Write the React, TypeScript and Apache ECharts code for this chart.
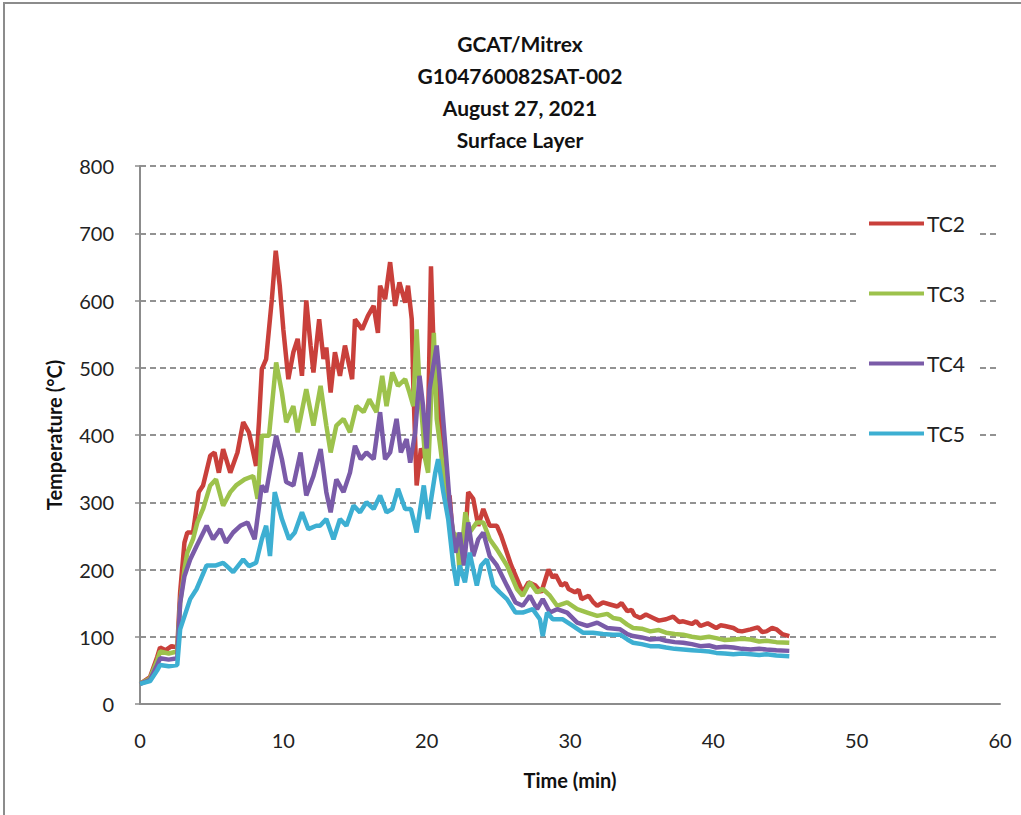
import React, { useEffect, useRef } from "react";
import * as echarts from "echarts";

const titleLines = ["GCAT/Mitrex", "G104760082SAT-002", "August 27, 2021", "Surface Layer"];
const seriesNames = ["TC2", "TC3", "TC4", "TC5"];
const seriesColors = ["#C9403B", "#9DC24C", "#7A5BA8", "#3DAFD2"];
const xTicks = [0, 10, 20, 30, 40, 50, 60];
const yTicks = [0, 100, 200, 300, 400, 500, 600, 700, 800];

const tc2: number[][] = [
  [0, 30], [0.7, 40], [1.2, 70], [1.4, 84], [1.8, 80], [2.2, 86], [2.6, 84], [2.8, 166], [3.1, 240], [3.3, 255],
  [3.7, 255], [4.1, 315], [4.4, 325], [4.9, 369], [5.2, 374], [5.5, 344], [5.8, 379], [6.3, 344], [6.8, 374],
  [7.2, 419], [7.6, 404], [8.1, 354], [8.3, 420], [8.5, 498], [8.8, 513], [9.2, 602], [9.47, 674], [9.75, 622],
  [10.0, 557], [10.35, 483], [10.7, 523], [11.0, 543], [11.3, 488], [11.6, 600], [11.9, 533], [12.1, 493],
  [12.5, 572], [12.8, 513], [13.0, 530], [13.3, 463], [13.6, 523], [13.95, 488], [14.3, 533], [14.8, 483],
  [15.0, 572], [15.5, 557], [15.9, 577], [16.3, 592], [16.6, 552], [16.75, 622], [17.1, 602], [17.45, 657],
  [17.8, 592], [18.1, 627], [18.5, 597], [18.7, 622], [18.96, 572], [19.07, 473], [19.3, 325], [19.6, 380],
  [19.9, 364], [20.1, 420], [20.3, 651], [20.5, 520], [20.8, 450], [21.16, 384], [21.4, 300], [21.6, 310],
  [21.86, 240], [22.2, 235], [22.6, 220], [22.9, 315], [23.25, 305], [23.6, 265], [23.95, 290], [24.4, 265],
  [24.9, 265], [25.2, 250], [25.6, 225], [25.9, 206], [26.3, 186], [26.7, 166], [27.1, 181], [27.6, 176],
  [28.0, 166], [28.5, 200], [28.8, 188], [29.0, 192], [29.4, 176], [29.7, 180], [29.9, 171], [30.35, 166],
  [30.6, 170], [30.8, 156], [31.3, 161], [31.6, 152], [31.9, 146], [32.3, 151], [32.8, 148], [33.3, 145],
  [33.6, 150], [34.0, 138], [34.3, 140], [34.5, 132], [34.9, 128], [35.3, 133], [35.8, 128], [36.2, 124],
  [36.7, 126], [37.2, 130], [37.6, 122], [37.9, 123], [38.5, 119], [38.8, 123], [39.1, 116], [39.6, 120],
  [40.2, 113], [40.5, 117], [40.8, 116], [41.4, 113], [41.7, 109], [42.0, 108], [42.6, 111], [43.1, 114],
  [43.4, 107], [43.7, 108], [44.1, 113], [44.4, 111], [44.8, 104], [45.3, 101]
];

const tc3: number[][] = [
  [0, 30], [0.7, 38], [1.2, 65], [1.4, 78], [2.0, 75], [2.6, 78], [2.8, 150], [3.1, 200], [3.3, 225], [3.7, 245],
  [4.0, 270], [4.4, 290], [4.9, 325], [5.3, 334], [5.8, 295], [6.3, 315], [6.7, 325], [7.3, 334], [7.9, 339],
  [8.2, 305], [8.5, 399], [9.0, 399], [9.5, 508], [9.9, 463], [10.2, 419], [10.7, 443], [11.0, 404], [11.6, 468],
  [12.1, 414], [12.6, 473], [13.0, 414], [13.3, 374], [13.7, 414], [14.2, 424], [14.65, 404], [15.1, 443],
  [15.6, 434], [16.0, 453], [16.5, 434], [16.9, 488], [17.2, 443], [17.6, 493], [18.0, 473], [18.5, 483],
  [18.8, 463], [19.07, 443], [19.3, 557], [19.5, 473], [19.9, 364], [20.1, 344], [20.5, 552], [20.7, 424],
  [21.0, 374], [21.4, 300], [21.6, 285], [21.86, 255], [22.1, 250], [22.3, 196], [22.7, 285], [23.0, 255],
  [23.5, 270], [23.95, 270], [24.4, 245], [24.9, 230], [25.6, 206], [26.3, 171], [26.7, 161], [27.2, 181],
  [27.7, 166], [28.1, 171], [28.6, 161], [29.1, 146], [29.8, 151], [30.5, 141], [31.2, 136], [31.9, 131],
  [32.6, 134], [33.0, 128], [33.5, 126], [34.0, 118], [34.4, 113], [35.0, 112], [35.6, 108], [36.2, 110],
  [36.7, 106], [37.3, 104], [37.9, 103], [38.5, 100], [39.1, 98], [39.7, 100], [40.2, 98], [40.8, 95],
  [41.4, 96], [42.0, 97], [42.6, 96], [43.2, 93], [43.7, 94], [44.4, 92], [45.3, 91]
];

const tc4: number[][] = [
  [0, 30], [0.7, 36], [1.2, 58], [1.4, 68], [2.0, 66], [2.6, 68], [2.8, 150], [3.1, 190], [3.5, 215], [3.95, 235],
  [4.65, 265], [5.1, 245], [5.6, 260], [6.0, 240], [6.5, 255], [7.0, 265], [7.5, 270], [8.0, 245], [8.5, 325],
  [8.8, 315], [9.5, 399], [9.9, 364], [10.2, 330], [10.7, 325], [11.2, 374], [11.6, 310], [12.1, 339],
  [12.6, 379], [13.0, 315], [13.3, 285], [13.7, 334], [14.2, 315], [14.65, 344], [15.0, 384], [15.4, 364],
  [15.8, 374], [16.3, 364], [16.75, 434], [17.1, 364], [17.45, 374], [17.9, 424], [18.2, 374], [18.6, 394],
  [18.85, 359], [19.2, 404], [19.5, 488], [19.75, 443], [20.0, 380], [20.2, 468], [20.7, 533], [21.0, 463],
  [21.3, 384], [21.6, 300], [22.0, 225], [22.3, 255], [22.6, 206], [22.9, 270], [23.25, 220], [23.6, 245],
  [23.95, 255], [24.4, 220], [24.9, 206], [25.6, 176], [26.2, 151], [26.7, 146], [27.2, 161], [27.7, 141],
  [28.1, 156], [28.6, 136], [29.1, 141], [29.8, 136], [30.5, 121], [31.2, 116], [31.9, 121], [32.6, 113],
  [33.5, 111], [34.0, 104], [34.4, 101], [35.0, 99], [35.6, 96], [36.2, 97], [36.7, 94], [37.3, 92], [37.9, 91],
  [38.5, 89], [39.1, 86], [39.7, 87], [40.2, 84], [40.8, 85], [41.4, 84], [42.0, 82], [42.6, 81], [43.2, 82],
  [43.7, 81], [44.4, 80], [45.3, 79]
];

const tc5: number[][] = [
  [0, 30], [0.7, 34], [1.2, 50], [1.4, 58], [2.0, 56], [2.6, 58], [2.8, 111], [3.5, 156], [3.95, 171], [4.65, 206],
  [5.3, 206], [5.8, 210], [6.0, 206], [6.5, 196], [7.2, 215], [7.6, 205], [8.1, 210], [8.5, 245], [8.8, 265],
  [9.07, 220], [9.4, 315], [9.9, 275], [10.4, 245], [10.8, 255], [11.3, 285], [11.75, 260], [12.3, 265],
  [12.56, 265], [13.0, 275], [13.5, 245], [13.95, 275], [14.4, 265], [14.9, 295], [15.35, 285], [15.8, 300],
  [16.3, 290], [16.75, 310], [17.2, 285], [17.6, 290], [18.0, 320], [18.5, 290], [18.9, 290], [19.3, 255],
  [19.8, 325], [20.1, 275], [20.6, 344], [20.8, 364], [21.16, 315], [21.5, 275], [21.86, 206], [22.1, 176],
  [22.3, 206], [22.67, 181], [23.0, 225], [23.5, 176], [23.8, 206], [24.2, 215], [24.65, 176], [25.1, 166],
  [25.6, 156], [26.2, 136], [26.7, 136], [27.4, 141], [27.9, 126], [28.1, 101], [28.4, 136], [28.8, 126],
  [29.5, 126], [30.2, 116], [30.9, 106], [31.6, 106], [32.3, 104], [33.0, 103], [33.5, 103], [34.0, 96],
  [34.4, 91], [35.0, 89], [35.6, 86], [36.2, 86], [36.7, 84], [37.3, 82], [37.9, 81], [38.5, 80], [39.1, 79],
  [39.7, 78], [40.2, 76], [40.8, 75], [41.4, 74], [42.0, 75], [42.6, 74], [43.2, 73], [43.7, 74], [44.4, 72],
  [45.3, 71]
];

const seriesData = [tc2, tc3, tc4, tc5];

const FONT = "Lato, 'Open Sans', sans-serif";

export default function App() {
  const ref = useRef<HTMLDivElement>(null);
  useEffect(() => {
    if (!ref.current) return;
    const chart = echarts.init(ref.current, undefined, { renderer: "svg" });
    chart.setOption({
      animation: false,
      backgroundColor: "#ffffff",
      title: {
        text: titleLines.join("\n"),
        left: 515,
        top: 22,
        textAlign: "center",
        textStyle: { fontFamily: FONT, fontWeight: "bold", fontSize: 21, lineHeight: 32, color: "#111" },
      },
      graphic: [
        {
          type: "rect",
          shape: { x: 4, y: 3, width: 1060, height: 860 },
          style: { fill: "none", stroke: "#8c8c8c", lineWidth: 2 },
          silent: true,
          z: 100,
        },
      ],
      legend: {
        orient: "vertical",
        left: 859,
        top: 205,
        padding: [8, 12, 8, 10],
        backgroundColor: "#ffffff",
        itemWidth: 55,
        itemHeight: 4,
        itemGap: 49,
        icon: "rect",
        data: seriesNames,
        textStyle: { fontFamily: FONT, fontSize: 21, lineHeight: 20, color: "#222", padding: [0, 0, 0, -2] },
        z: 10,
      },
      grid: { left: 140, right: 21, top: 166, bottom: 111, containLabel: false },
      xAxis: {
        type: "value",
        min: xTicks[0],
        max: xTicks[xTicks.length - 1],
        interval: 10,
        name: "Time (min)",
        nameLocation: "middle",
        nameGap: 66,
        nameTextStyle: { fontFamily: FONT, fontWeight: "bold", fontSize: 20, color: "#111" },
        axisLine: { show: true, lineStyle: { color: "#8c8c8c", width: 2 } },
        axisTick: { show: false },
        splitLine: { show: false },
        axisLabel: { fontFamily: FONT, fontSize: 20, color: "#222", margin: 26 },
      },
      yAxis: {
        type: "value",
        min: yTicks[0],
        max: yTicks[yTicks.length - 1],
        interval: 100,
        name: "Temperature (°C)",
        nameLocation: "middle",
        nameGap: 76,
        nameTextStyle: { fontFamily: FONT, fontWeight: "bold", fontSize: 20, color: "#111" },
        axisLine: { show: true, lineStyle: { color: "#8c8c8c", width: 2 } },
        axisTick: { show: true, length: 5, inside: false, lineStyle: { color: "#8c8c8c", width: 1.5 } },
        splitLine: { show: true, lineStyle: { color: "#6f6f6f", width: 1.5, type: [6, 4] } },
        axisLabel: { fontFamily: FONT, fontSize: 20, color: "#222", margin: 26 },
      },
      series: seriesNames.map((name, i) => ({
        name,
        type: "line",
        data: seriesData[i],
        symbol: "none",
        showSymbol: false,
        color: seriesColors[i],
        lineStyle: { width: 4.5, color: seriesColors[i] },
        z: 2 + i,
      })),
    });
    return () => chart.dispose();
  }, []);
  return (
    <div
      ref={ref}
      style={{ position: "fixed", left: 0, top: 0, width: 1021, height: 815 }}
    />
  );
}
